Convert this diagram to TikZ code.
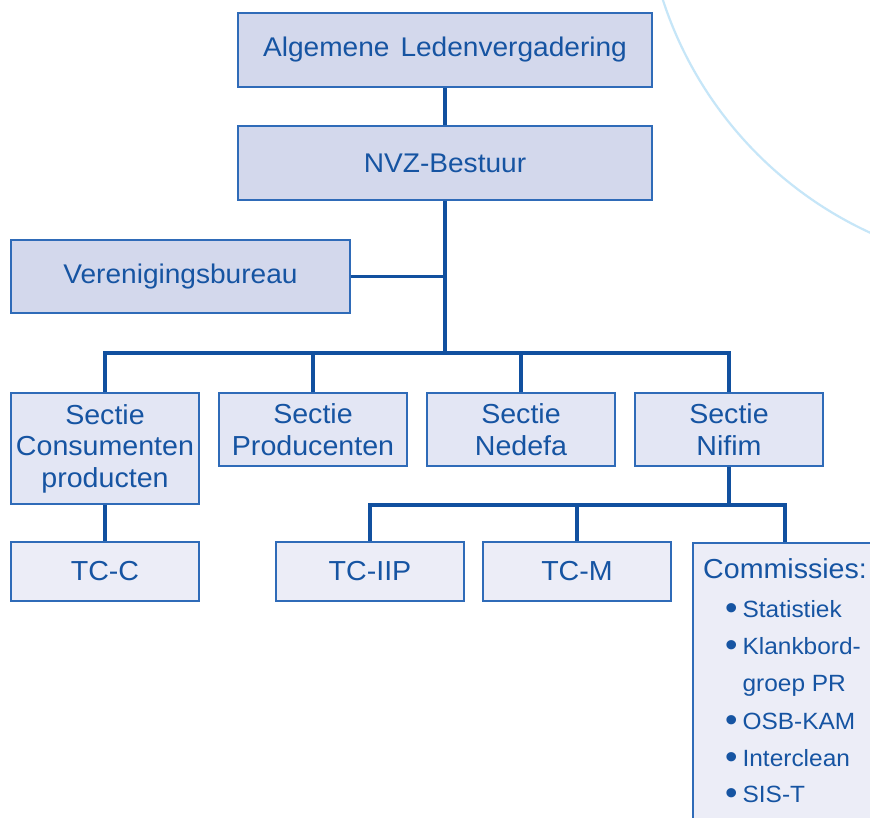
\documentclass[tikz,border=0pt]{standalone}
\usepackage{fontspec}
\setmainfont{Liberation Sans}[FakeStretch=1.04]
\definecolor{txtblue}{HTML}{1654A2}
\definecolor{lineblue}{HTML}{11509F}
\definecolor{edgeblue}{HTML}{2F6BB8}
\definecolor{fillA}{HTML}{D3D8EC}
\definecolor{fillB}{HTML}{E3E6F4}
\definecolor{fillC}{HTML}{ECEDF7}
\definecolor{arcblue}{HTML}{C6E6F8}
\newcommand{\bul}{\raisebox{-0.12em}{\scalebox{1.45}{\textbullet}}}
\tikzset{
  box/.style={draw=edgeblue, line width=1.5pt, text=txtblue, inner sep=0pt, align=center},
  topbox/.style={box, fill=fillA, font=\fontsize{27}{32}\selectfont},
  secbox/.style={box, fill=fillB, font=\fontsize{27.5}{31.5}\selectfont, minimum width=188pt},
  tcbox/.style={box, fill=fillC, font=\fontsize{27.5}{31.5}\selectfont, minimum width=188pt, minimum height=59pt},
  conn/.style={draw=lineblue, line width=3.2pt},
  item/.style={text=txtblue, anchor=base west, inner sep=0pt, font=\fontsize{23.5}{28}\selectfont}
}
\begin{document}
\begin{tikzpicture}[x=1pt,y=-1pt]
\useasboundingbox (0,0) rectangle (870,818);
\clip (0,0) rectangle (870,818);
\fill[white] (0,0) rectangle (870,818);
% decorative arc
\draw[arcblue, line width=2.2pt] (1032,-120) circle (388);
% top boxes
\node[topbox, minimum width=414pt, minimum height=74pt] (alv) at (445,50) {Algemene\hspace{0.12em} Ledenvergadering};
\node[topbox, minimum width=414pt, minimum height=74pt] (nvz) at (445,163) {NVZ-Bestuur};
\node[topbox, minimum width=339pt, minimum height=73pt] (vb) at (180.5,276.5) {Verenigingsbureau};
% sections
\node[secbox, minimum height=111pt] (sc) at (105,448.5) {Sectie\\Consumenten\\producten};
\node[secbox, minimum height=73pt] (sp) at (313,429.5) {Sectie\\Producenten};
\node[secbox, minimum height=73pt] (sne) at (521,429.5) {Sectie\\Nedefa};
\node[secbox, minimum height=73pt] (sni) at (729,429.5) {Sectie\\Nifim};
% TC boxes
\node[tcbox] (tcc) at (105,571.5) {TC-C};
\node[tcbox] (tciip) at (370,571.5) {TC-IIP};
\node[tcbox] (tcm) at (577,571.5) {TC-M};
\node[box, fill=fillC, minimum width=200pt, minimum height=300pt, anchor=north west] (com) at (692,542) {};
% commissies text
\node[text=txtblue, anchor=base west, inner sep=0pt, font=\fontsize{27.5}{32}\selectfont] (comt) at (703,578) {Commissies:};
\node[item] (c1) at (725,617) {\bul\hspace{5pt}Statistiek};
\node[item] (c2) at (725,654) {\bul\hspace{5pt}Klankbord-};
\node[item] (c3) at (725,691) {\phantom{\bul}\hspace{5pt}groep PR};
\node[item] (c4) at (725,729) {\bul\hspace{5pt}OSB-KAM};
\node[item] (c5) at (725,766) {\bul\hspace{5pt}Interclean};
\node[item] (c6) at (725,802) {\bul\hspace{5pt}SIS-T};
% junctions
\coordinate (j1) at (445,353);
\coordinate (j2) at (729,505);
% connectors
\draw[conn] (alv.south) -- (nvz.north);
\draw[conn] (nvz.south) -- (j1);
\draw[conn] (vb.east) -- (vb.east -| j1);
\draw[conn] (j1) -| (sc.north);
\draw[conn] (j1) -| (sni.north);
\draw[conn] (sp.north) -- (sp.north |- j1);
\draw[conn] (sne.north) -- (sne.north |- j1);
\draw[conn] (sc.south) -- (tcc.north);
\draw[conn] (sni.south) -- (j2);
\draw[conn] (j2) -| (tciip.north);
\draw[conn] (j2) -| (com.north -| 785,0);
\draw[conn] (tcm.north) -- (tcm.north |- j2);
\end{tikzpicture}
\end{document}
